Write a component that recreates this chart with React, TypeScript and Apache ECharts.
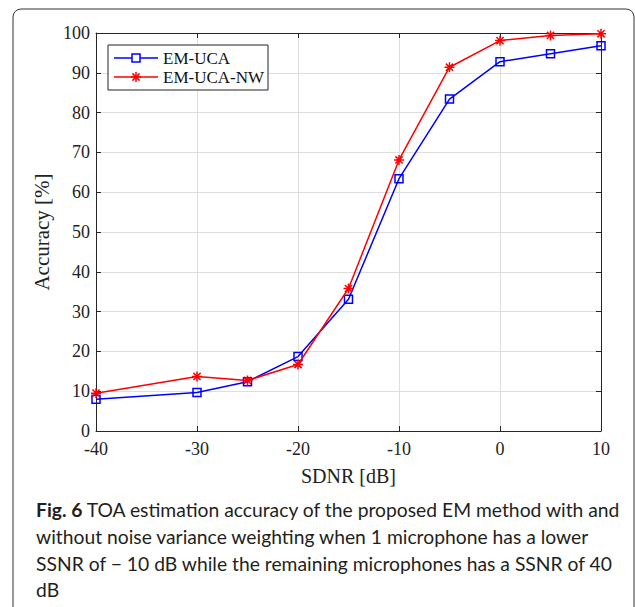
import React, { useEffect, useRef } from "react";
import * as echarts from "echarts";

const sdnr = [-40, -30, -25, -20, -15, -10, -5, 0, 5, 10];
const emUca = [8.0, 9.7, 12.4, 18.7, 33.1, 63.4, 83.4, 92.8, 94.8, 96.8];
const emUcaNw = [9.5, 13.7, 12.7, 16.7, 35.8, 68.1, 91.4, 98.1, 99.4, 99.8];
const seriesNames = ["EM-UCA", "EM-UCA-NW"];
const xTitle = "SDNR [dB]";
const yTitle = "Accuracy [%]";
const captionBold = "Fig. 6";
const captionLines = [
  " TOA estimation accuracy of the proposed EM method with and",
  "without noise variance weighting when 1 microphone has a lower",
  "SSNR of \u2212 10 dB while the remaining microphones has a SSNR of 40",
  "dB",
];

const serif = "'Liberation Serif', 'Times New Roman', serif";
const sans = "Lato, 'Open Sans', sans-serif";
const asterisk =
  "path://M0,-5L0,5M-5,0L5,0M-3.6,-3.6L3.6,3.6M-3.6,3.6L3.6,-3.6";

const BLUE = "#0000ff";
const RED = "#ff0000";

function starLines(cx: number, cy: number, r: number) {
  const d = r * 0.72;
  const segs = [
    [0, -r, 0, r],
    [-r, 0, r, 0],
    [-d, -d, d, d],
    [-d, d, d, -d],
  ];
  return segs.map((s) => ({
    type: "line",
    shape: { x1: cx + s[0], y1: cy + s[1], x2: cx + s[2], y2: cy + s[3] },
    style: { stroke: RED, lineWidth: 1.5 },
    z: 102,
  }));
}

export default function App() {
  const ref = useRef<HTMLDivElement>(null);
  useEffect(() => {
    if (!ref.current) return;
    const chart = echarts.init(ref.current, null, { renderer: "svg" });
    const axisLine = { show: true, onZero: false, lineStyle: { color: "#262626", width: 1 } };
    const tick = { show: true, inside: true, length: 5, lineStyle: { color: "#262626" } };
    const lx = 108;
    const ly = 45;
    chart.setOption({
      animation: false,
      backgroundColor: "#fff",
      grid: { left: 96, top: 33, width: 505, height: 398 },
      xAxis: [
        {
          type: "value",
          min: -40,
          max: 10,
          interval: 10,
          name: xTitle,
          nameLocation: "middle",
          nameGap: 35,
          nameTextStyle: { fontFamily: serif, fontSize: 20, color: "#222" },
          axisLine,
          axisTick: tick,
          axisLabel: { fontFamily: serif, fontSize: 18, color: "#222", margin: 9 },
          splitLine: { show: true, lineStyle: { color: "#dedede", width: 1 } },
        },
        {
          type: "value",
          position: "top",
          min: -40,
          max: 10,
          interval: 10,
          axisLine,
          axisTick: tick,
          axisLabel: { show: false },
          splitLine: { show: false },
        },
      ],
      yAxis: [
        {
          type: "value",
          min: 0,
          max: 100,
          interval: 10,
          name: yTitle,
          nameLocation: "middle",
          nameGap: 40,
          nameTextStyle: { fontFamily: serif, fontSize: 21, color: "#222" },
          axisLine,
          axisTick: tick,
          axisLabel: { fontFamily: serif, fontSize: 18, color: "#222", margin: 6 },
          splitLine: { show: true, lineStyle: { color: "#dedede", width: 1 } },
        },
        {
          type: "value",
          position: "right",
          min: 0,
          max: 100,
          interval: 10,
          axisLine,
          axisTick: tick,
          axisLabel: { show: false },
          splitLine: { show: false },
        },
      ],
      series: [
        {
          name: seriesNames[0],
          type: "line",
          data: sdnr.map((x, i) => [x, emUca[i]]),
          symbol: "rect",
          symbolSize: 8,
          showAllSymbol: true,
          lineStyle: { color: BLUE, width: 1.5 },
          itemStyle: { color: "rgba(255,255,255,0)", borderColor: BLUE, borderWidth: 1.5 },
          z: 3,
        },
        {
          name: seriesNames[1],
          type: "line",
          data: sdnr.map((x, i) => [x, emUcaNw[i]]),
          symbol: asterisk,
          symbolSize: 10,
          showAllSymbol: true,
          lineStyle: { color: RED, width: 1.5 },
          itemStyle: { color: "rgba(255,0,0,0)", borderColor: RED, borderWidth: 1.5 },
          z: 4,
        },
      ],
      graphic: [
        {
          type: "rect",
          shape: { x: 13, y: 9, width: 621, height: 640, r: 8 },
          style: { fill: "none", stroke: "#333", lineWidth: 1 },
          silent: true,
        },
        // legend box
        {
          type: "rect",
          shape: { x: lx, y: ly, width: 160, height: 45 },
          style: { fill: "#fff", stroke: "#222", lineWidth: 1 },
          z: 100,
        },
        {
          type: "line",
          shape: { x1: lx + 6, y1: ly + 13, x2: lx + 50, y2: ly + 13 },
          style: { stroke: BLUE, lineWidth: 1.5 },
          z: 101,
        },
        {
          type: "rect",
          shape: { x: lx + 24, y: ly + 9, width: 8, height: 8 },
          style: { fill: "#fff", stroke: BLUE, lineWidth: 1.5 },
          z: 102,
        },
        {
          type: "text",
          x: lx + 55,
          y: ly + 13,
          style: {
            text: seriesNames[0],
            fontFamily: serif,
            fontSize: 17,
            fill: "#111",
            verticalAlign: "middle",
          },
          z: 102,
        },
        {
          type: "line",
          shape: { x1: lx + 6, y1: ly + 32, x2: lx + 50, y2: ly + 32 },
          style: { stroke: RED, lineWidth: 1.5 },
          z: 101,
        },
        ...starLines(lx + 28, ly + 32, 5),
        {
          type: "text",
          x: lx + 55,
          y: ly + 32,
          style: {
            text: seriesNames[1],
            fontFamily: serif,
            fontSize: 17,
            fill: "#111",
            verticalAlign: "middle",
          },
          z: 102,
        },
        // caption
        {
          type: "text",
          left: 36,
          top: 500,
          style: {
            rich: {
              b: { fontFamily: sans, fontWeight: "bold", fontSize: 19.3, fill: "#231f20" },
              n: { fontFamily: sans, fontSize: 19.3, fill: "#231f20" },
            },
            text: `{b|${captionBold}}{n|${captionLines[0]}}`,
          },
        },
        ...captionLines.slice(1).map((line, i) => ({
          type: "text",
          left: 36,
          top: 527 + i * 26.5,
          style: { text: line, fontFamily: sans, fontSize: 19.3, fill: "#231f20" },
        })),
      ],
    });
    return () => chart.dispose();
  }, []);
  return (
    <div
      ref={ref}
      style={{ position: "fixed", left: 0, top: 0, width: 635, height: 607 }}
    />
  );
}
